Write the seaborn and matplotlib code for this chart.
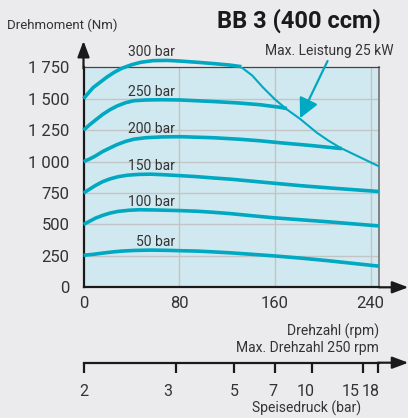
import numpy as np
import pandas as pd
import matplotlib
matplotlib.use('Agg')
import matplotlib.pyplot as plt
import seaborn as sns

sns.set_theme(style='white')
plt.rcParams['font.family'] = ['Roboto', 'DejaVu Sans']

# ---- data ----
rpm_300 = [0, 4, 8, 14, 20, 26, 32, 40, 48, 58, 70, 80, 95, 108, 122, 132]
nm_300 = [1500, 1545, 1588, 1632, 1675, 1712, 1742, 1770, 1790, 1803, 1805, 1800, 1790, 1780, 1768, 1755]
rpm_250 = [0, 5, 10, 16, 22, 28, 35, 42, 52, 65, 81, 108, 130, 148, 164, 170]
nm_250 = [1250, 1292, 1330, 1375, 1412, 1442, 1468, 1484, 1490, 1492, 1490, 1478, 1466, 1452, 1432, 1422]
rpm_200 = [0, 5, 10, 16, 22, 28, 35, 42, 52, 65, 81, 108, 130, 148, 164, 190, 216]
nm_200 = [1000, 1020, 1045, 1080, 1108, 1135, 1160, 1178, 1190, 1196, 1198, 1190, 1178, 1165, 1150, 1128, 1103]
rpm_150 = [0, 5, 10, 16, 22, 29, 37, 46, 56, 68, 81, 95, 108, 123, 140, 159, 182, 206, 247]
nm_150 = [750, 780, 810, 840, 862, 880, 892, 898, 900, 895, 888, 880, 870, 860, 845, 828, 808, 790, 762]
rpm_100 = [0, 5, 10, 16, 22, 29, 38, 47, 60, 81, 95, 108, 123, 140, 159, 182, 206, 247]
nm_100 = [500, 525, 550, 572, 590, 604, 613, 617, 615, 610, 605, 597, 586, 570, 553, 537, 520, 488]
rpm_50 = [0, 8, 16, 24, 32, 42, 56, 70, 81, 95, 108, 123, 140, 159, 182, 206, 247]
nm_50 = [255, 262, 272, 281, 288, 293, 296, 294, 291, 288, 282, 274, 263, 250, 232, 210, 168]

power_rpm = [132, 141, 150, 160, 170, 181, 195, 205, 215, 231, 247]
power_nm = [1750, 1685, 1590, 1495, 1415, 1340, 1230, 1165, 1108, 1035, 962]

curves = [('300 bar', rpm_300, nm_300), ('250 bar', rpm_250, nm_250),
          ('200 bar', rpm_200, nm_200), ('150 bar', rpm_150, nm_150),
          ('100 bar', rpm_100, nm_100), ('50 bar', rpm_50, nm_50)]

x_ticks = [0, 80, 160, 240]
y_ticks = [0, 250, 500, 750, 1000, 1250, 1500, 1750]
y_labels = ['0', '250', '500', '750', '1 000', '1 250', '1 500', '1 750']

druck_labels = ['2', '3', '5', '7', '10', '15', '18']
druck_rpm = [0, 77.7, 126, 160, 191.2, 233.3, 245.8]
druck_label_rpm = [0, 70.7, 126.4, 158.2, 185.8, 223.5, 240]

BG = '#ebebee'
PANEL = '#d0e9f0'
CYAN = '#00a8c1'
TXT = '#333333'
XMAX = 247

fig = plt.figure(figsize=(4.08, 4.18), dpi=100, facecolor=BG)
ax = fig.add_axes([83.5 / 408, 1 - 287.3 / 418, (379 - 83.5) / 408, (287.3 - 67.3) / 418])
ax.set_facecolor(PANEL)

for xv in x_ticks[1:]:
    ax.axvline(xv, color='#c2c4c6', lw=1, zorder=1)
for yv in y_ticks[1:-1]:
    ax.axhline(yv, color='#c2c4c6', lw=1, zorder=1)

for name, xs, ys in curves:
    d = pd.DataFrame({'rpm': xs, 'nm': ys})
    sns.lineplot(data=d, x='rpm', y='nm', ax=ax, color=CYAN, lw=2.6,
                 clip_on=False, zorder=4, solid_capstyle='butt',
                 solid_joinstyle='round')
    ax.text(76.5, max(ys) + 65, name, ha='right', va='center',
            fontsize=10, color=TXT)

pw = pd.DataFrame({'rpm': power_rpm, 'nm': power_nm})
sns.lineplot(data=pw, x='rpm', y='nm', ax=ax, color=CYAN, lw=1.5, zorder=4)

ax.annotate('', xy=(181, 1345), xytext=(204, 1800),
            arrowprops=dict(arrowstyle='-|>,head_length=1.0,head_width=0.5',
                            color=CYAN, lw=1.6, shrinkA=0, shrinkB=0),
            annotation_clip=False, zorder=5)
ax.text(XMAX + 12, 1880, 'Max. Leistung 25 kW', ha='right', va='center',
        fontsize=10, color=TXT)

ax.set_xlim(0, XMAX)
ax.set_ylim(0, 1750)
ax.set_xticks(x_ticks)
ax.set_yticks(y_ticks)
ax.set_yticklabels(y_labels)
ax.tick_params(axis='both', length=0, labelsize=12, labelcolor=TXT)
ax.tick_params(axis='y', pad=10)
ax.tick_params(axis='x', pad=6)
ax.set_xlabel('')
ax.set_ylabel('')

for s in ['left', 'bottom']:
    ax.spines[s].set_color('#1a1a1a')
    ax.spines[s].set_linewidth(1.6)
ax.spines['right'].set_color('#7a7a7a')
ax.spines['right'].set_linewidth(1.3)
ax.spines['top'].set_linewidth(0.9)
ax.spines['top'].set_color('#444444')

# axis arrows
ax.annotate('', xy=(0, 1960), xytext=(0, 1740),
            arrowprops=dict(arrowstyle='-|>,head_length=0.8,head_width=0.3',
                            color='#1a1a1a', lw=1.6, shrinkA=0, shrinkB=0),
            annotation_clip=False)
ax.annotate('', xy=(XMAX + 24.5, 0), xytext=(XMAX, 0),
            arrowprops=dict(arrowstyle='-|>,head_length=0.8,head_width=0.3',
                            color='#1a1a1a', lw=1.6, shrinkA=0, shrinkB=0),
            annotation_clip=False)

# second axis: Speisedruck
ax2 = fig.add_axes([83.5 / 408, 1 - 362.7 / 418, (379 - 83.5) / 408, 0.001])
ax2.patch.set_alpha(0)
ax2.set_xlim(0, XMAX)
ax2.set_yticks([])
for s in ['top', 'right', 'left']:
    ax2.spines[s].set_visible(False)
ax2.spines['bottom'].set_color('#1a1a1a')
ax2.spines['bottom'].set_linewidth(1.6)
ax2.set_xticks(druck_rpm)
ax2.set_xticklabels([])
ax2.tick_params(axis='x', bottom=True, direction='out', length=7, width=1.6,
                color='#1a1a1a')
for lab, xv in zip(druck_labels, druck_label_rpm):
    ax2.annotate(lab, xy=(xv, 0), xycoords=('data', 'axes fraction'),
                 xytext=(0, -21), textcoords='offset points',
                 ha='center', va='center', fontsize=11.5, color=TXT,
                 annotation_clip=False)
ax2.annotate('', xy=(XMAX + 24.5, 0), xytext=(XMAX - 1, 0),
             xycoords=('data', 'axes fraction'),
             arrowprops=dict(arrowstyle='-|>,head_length=0.8,head_width=0.3',
                             color='#1a1a1a', lw=1.6, shrinkA=0, shrinkB=0),
             annotation_clip=False)

# texts
fig.text(7 / 408, 1 - 25 / 418, 'Drehmoment (Nm)', ha='left', va='center',
         fontsize=9.5, color=TXT)
fig.text(381 / 408, 1 - 21 / 418, 'BB 3 (400 ccm)', ha='right', va='center',
         fontsize=17, fontweight='bold', color='#1a1a1a')
fig.text(379 / 408, 1 - 331.7 / 418, 'Drehzahl (rpm)', ha='right', va='center',
         fontsize=10, color=TXT)
fig.text(379 / 408, 1 - 348 / 418, 'Max. Drehzahl 250 rpm', ha='right', va='center',
         fontsize=10, color=TXT)
fig.text(361 / 408, 1 - 408 / 418, 'Speisedruck (bar)', ha='right', va='center',
         fontsize=10, color=TXT)

fig.savefig('out.png', dpi=100, facecolor=BG)
